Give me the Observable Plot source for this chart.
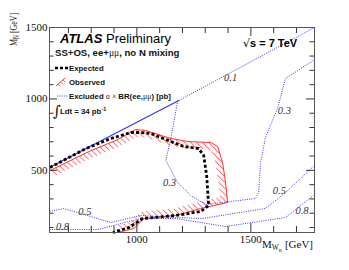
<!DOCTYPE html>
<html><head><meta charset="utf-8">
<script src="https://cdn.jsdelivr.net/npm/d3@7"></script>
<script src="https://cdn.jsdelivr.net/npm/@observablehq/plot@0.6"></script>
<style>body{margin:0;background:#fff}</style>
</head><body><div id="chart"></div>
<script>
// Axis ranges and ticks (GeV)
const xDomain = [617, 1779];
const yDomain = [65, 1500];
const xMajorTicks = [1000, 1500];
const xMinorTicks = [700, 800, 900, 1100, 1200, 1300, 1400, 1600, 1700];
const yMajorTicks = [500, 1000, 1500];
const yMinorTicks = [100, 200, 300, 400, 600, 700, 800, 900, 1100, 1200, 1300, 1400];

// Curves as [M_WR, M_N] pairs
const limitLine = [[617, 520], [1184, 989]];
const contour01 = [[1184, 989], [1779, 1500]];
const contour03 = [[1774, 1269], [1652, 1143], [1617, 933], [1564, 730], [1542, 548], [1534, 345], [1520, 303], [1302, 261], [1236, 324], [1179, 415], [1127, 569], [1149, 723], [1162, 835], [1179, 989]];
const contour05 = [[617, 212], [680, 233], [886, 135], [1017, 184], [1170, 170], [1288, 163], [1564, 233], [1652, 345], [1774, 527]];
const contour08 = [[617, 86], [829, 86], [1017, 163], [1170, 163], [1389, 107], [1652, 170], [1774, 324]];
const expected = [[619, 520], [777, 653], [886, 723], [974, 765], [1017, 765], [1061, 758], [1149, 702], [1205, 667], [1271, 653], [1293, 604], [1306, 464], [1315, 254], [1280, 212], [1170, 184], [1026, 163], [965, 100], [895, 65]];
const observed = [[619, 499], [799, 639], [908, 709], [995, 786], [1039, 779], [1149, 723], [1223, 702], [1324, 695], [1354, 667], [1376, 555], [1389, 415], [1398, 275], [1280, 233], [1170, 184], [1031, 163], [987, 93], [917, 65]];

// Contour labels
const contourLabelText = ["0.1", "0.3", "0.3", "0.5", "0.5", "0.8", "0.8"];
const contourLabelX = [1411, 1647, 1143, 772, 1625, 674, 1724];
const contourLabelY = [1150, 919, 415, 208, 355, 107, 219];

const W = 349, H = 270, mL = 49, mR = 35, mT = 27, mB = 38;
const plotW = W - mL - mR, plotH = H - mT - mB;

const X = d => d[0], Y = d => d[1];
const blue = "#3535f5";
const hatchKey = "#fe4b4b";
const dotted = {stroke: blue, strokeWidth: 1, strokeDasharray: "1 1.3", strokeLinecap: "butt"};
const tk = "#333";
// inward ticks on all four sides (length in px), drawn as Plot rules
const ticksX = (vals, len) => [
  Plot.ruleX(vals, {x: d => d, insetTop: plotH - len, stroke: tk, strokeWidth: 1}),
  Plot.ruleX(vals, {x: d => d, insetBottom: plotH - len, stroke: tk, strokeWidth: 1})
];
const ticksY = (vals, len) => [
  Plot.ruleY(vals, {y: d => d, insetRight: plotW - len, stroke: tk, strokeWidth: 1}),
  Plot.ruleY(vals, {y: d => d, insetLeft: plotW - len, stroke: tk, strokeWidth: 1})
];

const chart = Plot.plot({
  width: W, height: H,
  marginLeft: mL, marginRight: mR, marginTop: mT, marginBottom: mB,
  style: {background: "#fff", fontFamily: "'Liberation Serif', serif", fontSize: "11px", color: "#111"},
  x: {domain: xDomain, label: null},
  y: {domain: yDomain, label: null},
  marks: [
    Plot.line(observed, {x: X, y: Y, stroke: hatchKey, strokeWidth: 14, strokeLinecap: "butt"}),
    Plot.line(observed, {x: X, y: Y, stroke: "#ff3030", strokeWidth: 1}),
    Plot.line(limitLine, {x: X, y: Y, stroke: blue, strokeWidth: 1.2}),
    Plot.line(contour01, {x: X, y: Y, ...dotted}),
    Plot.line(contour03, {x: X, y: Y, ...dotted}),
    Plot.line(contour05, {x: X, y: Y, ...dotted}),
    Plot.line(contour08, {x: X, y: Y, ...dotted}),
    Plot.line(expected, {x: X, y: Y, stroke: "black", strokeWidth: 2.8, strokeDasharray: "3 2.2", strokeLinecap: "butt"}),
    Plot.text(contourLabelText, {x: (d, i) => contourLabelX[i], y: (d, i) => contourLabelY[i], text: d => d, fontStyle: "italic", fontSize: 10.5, fill: "#333"}),
    ...ticksX(xMinorTicks, 6),
    ...ticksX(xMajorTicks, 9),
    ...ticksY(yMinorTicks, 4.5),
    ...ticksY(yMajorTicks, 8),
    Plot.frame({stroke: "#555"}),
    Plot.axisX({anchor: "bottom", ticks: xMajorTicks, tickSize: 0, tickPadding: 3, tickFormat: "d", label: null, fontSize: 11}),
    Plot.axisY({anchor: "left", ticks: yMajorTicks, tickSize: 0, tickPadding: 2, tickFormat: "d", label: null, fontSize: 11})
  ]
});
document.getElementById("chart").appendChild(chart);

const svg = d3.select(chart);
const xs = chart.scale("x"), ys = chart.scale("y");

// hatch pattern + clip to the excluded (observed) region
const defs = svg.insert("defs", ":first-child");
const pat = defs.append("pattern").attr("id", "hatch").attr("patternUnits", "userSpaceOnUse")
  .attr("width", 4.2).attr("height", 10).attr("patternTransform", "rotate(-45)");
pat.append("line").attr("x1", 0.5).attr("y1", 0).attr("x2", 0.5).attr("y2", 10)
  .attr("stroke", "#ff4a4a").attr("stroke-width", 0.8);
const poly = observed.map(d => [xs.apply(d[0]), ys.apply(d[1])]);
poly.push([xs.apply(xs.domain[0]), ys.apply(ys.domain[0])]);
defs.append("clipPath").attr("id", "obsclip").append("path")
  .attr("d", "M" + poly.map(p => p.join(",")).join("L") + "Z");
svg.selectAll("[stroke]").filter(function () { return this.getAttribute("stroke") === hatchKey; })
  .attr("stroke", "url(#hatch)").attr("clip-path", "url(#obsclip)");

const sans = "'Liberation Sans', Arial, sans-serif";
const serif = "'Liberation Serif', serif";
const g = svg.append("g").attr("text-anchor", "start").style("text-anchor", "start");

// Axis titles
const yl = g.append("text").attr("transform", "translate(17,46) rotate(-90) scale(0.72,1)")
  .attr("font-family", serif).attr("font-size", 11).attr("fill", "#111");
yl.append("tspan").text("M");
yl.append("tspan").attr("font-size", 7.5).attr("dy", 2).text("N");
yl.append("tspan").attr("dy", -2).text(" [GeV]");

const xl = g.append("text").attr("x", 313).attr("y", 248).attr("text-anchor", "end").style("text-anchor", "end")
  .attr("font-family", serif).attr("font-size", 11).attr("fill", "#111");
xl.append("tspan").text("M");
xl.append("tspan").attr("font-size", 7.5).attr("dy", 2).text("W");
xl.append("tspan").attr("font-size", 5).attr("dy", 2).text("R");
xl.append("tspan").attr("dy", -4).text(" [GeV]");

// ATLAS label
const at = g.append("text").attr("x", 60).attr("y", 43).attr("font-family", sans).attr("font-size", 13).attr("fill", "#000");
at.append("tspan").attr("font-weight", "bold").attr("font-style", "italic").text("ATLAS");
at.append("tspan").text(" Preliminary");

const ss = g.append("text").attr("x", 55).attr("y", 56).attr("font-family", sans).attr("font-size", 9.6).attr("font-weight", "bold");
ss.append("tspan").text("SS+OS, ee+");
ss.append("tspan").attr("font-family", serif).attr("font-weight", "normal").text("μμ");
ss.append("tspan").text(", no N mixing");

// Legend
g.append("line").attr("x1", 55).attr("x2", 68).attr("y1", 68).attr("y2", 68)
  .attr("stroke", "#000").attr("stroke-width", 2.6).attr("stroke-dasharray", "3 2");
g.append("text").attr("x", 69).attr("y", 71).attr("font-family", sans).attr("font-size", 7.8).attr("font-weight", "bold").text("Expected");

g.append("line").attr("x1", 56).attr("y1", 86).attr("x2", 65).attr("y2", 78).attr("stroke", "#ff3030").attr("stroke-width", 1);
[[58, 84], [60.5, 82], [63, 80]].forEach(([a, b]) =>
  g.append("line").attr("x1", a).attr("y1", b).attr("x2", a + 2.5).attr("y2", b + 2.5).attr("stroke", "#ff4a4a").attr("stroke-width", 0.8));
g.append("text").attr("x", 69).attr("y", 85).attr("font-family", sans).attr("font-size", 7.8).attr("font-weight", "bold").text("Observed");

g.append("line").attr("x1", 57).attr("x2", 68).attr("y1", 96).attr("y2", 96)
  .attr("stroke", blue).attr("stroke-width", 1).attr("stroke-dasharray", "1 1.3");
const ex = g.append("text").attr("x", 69).attr("y", 99).attr("font-family", sans).attr("font-size", 7.8).attr("font-weight", "bold");
ex.append("tspan").text("Excluded ");
ex.append("tspan").attr("font-family", serif).attr("font-weight", "normal").text("σ × ");
ex.append("tspan").text("BR(ee,");
ex.append("tspan").attr("font-family", serif).attr("font-weight", "normal").text("μμ");
ex.append("tspan").text(") [pb]");

g.append("text").attr("x", 53).attr("y", 116).attr("font-family", "'DejaVu Serif', serif").attr("font-size", 15).text("∫");
const ld = g.append("text").attr("x", 60).attr("y", 114).attr("font-family", sans).attr("font-size", 7.8).attr("font-weight", "bold");
ld.append("tspan").text("Ldt = 34 pb");
ld.append("tspan").attr("font-size", 5.5).attr("dy", -3.5).text("-1");

const rs = g.append("text").attr("x", 243).attr("y", 47).attr("font-family", sans).attr("font-size", 11).attr("fill", "#000");
rs.append("tspan").attr("font-family", "'DejaVu Sans', sans-serif").attr("font-size", 11).text("√");
rs.append("tspan").attr("font-weight", "bold").text("s = 7 TeV");
</script>
</body></html>
